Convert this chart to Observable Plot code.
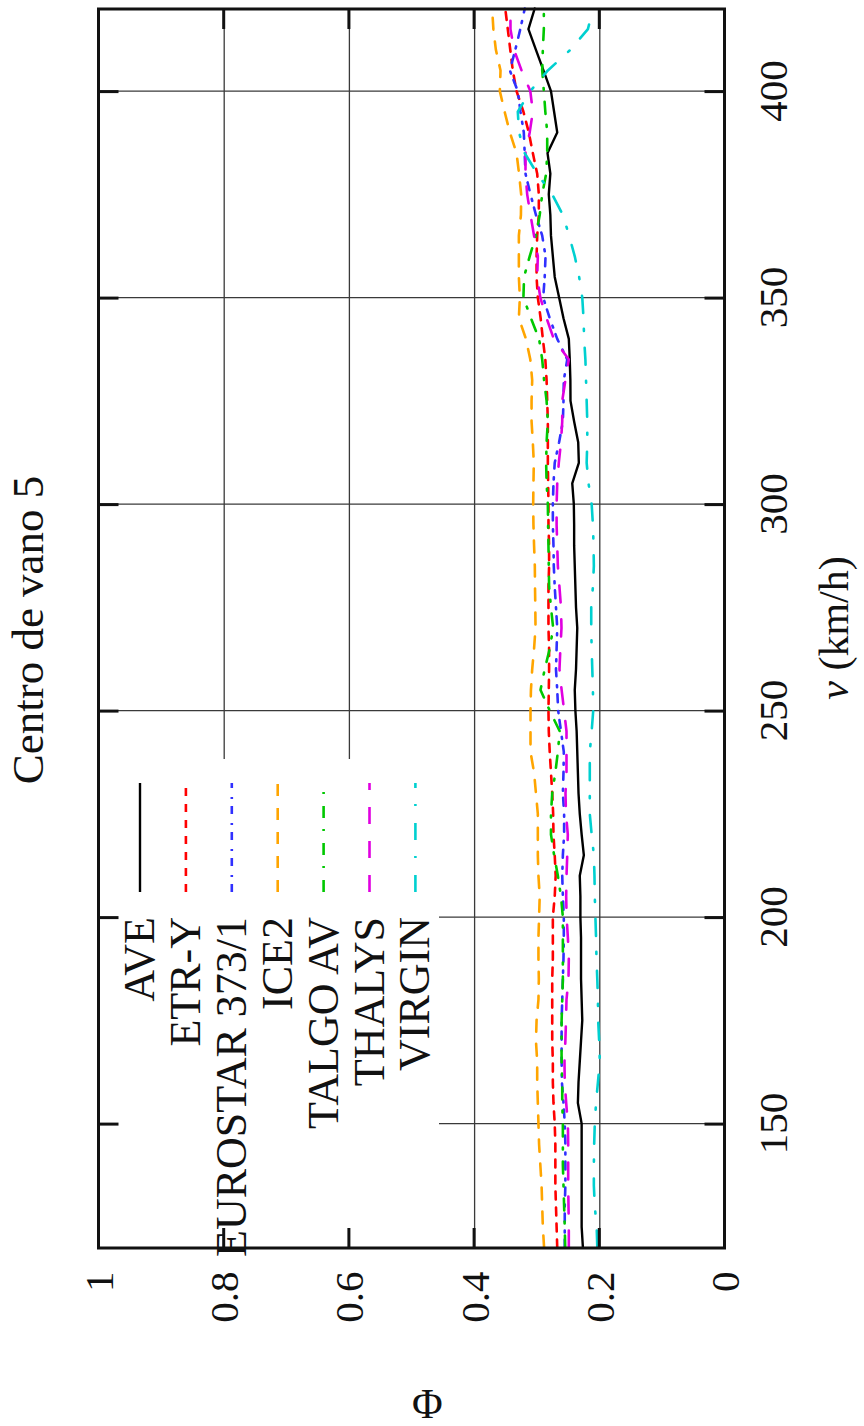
<!DOCTYPE html>
<html><head><meta charset="utf-8">
<script src="https://cdn.jsdelivr.net/npm/d3@7"></script>
<script src="https://cdn.jsdelivr.net/npm/@observablehq/plot@0.6"></script>
<style>
html,body{margin:0;padding:0;background:#fff;}
#wrap{position:relative;width:864px;height:1426px;overflow:hidden;background:#fff;}
#wrap svg{position:absolute;left:0;top:0;max-width:none !important;width:1426px !important;height:864px !important;transform-origin:0 0;transform:translate(0px,1426px) rotate(-90deg);}
</style></head><body><div id="wrap"></div>
<script>
// ---- data (v in km/h, Φ) ----
const speeds = [120,125,130,135,140,145,150,155,160,165,170,175,180,185,190,195,200,205,210,215,220,225,230,235,240,245,250,255,260,265,270,275,280,285,290,295,300,305,310,315,320,325,330,335,340,345,350,355,360,365,370,375,380,385,390,395,400,405,410,415,420];
const ave = [.227,.229,.229,.229,.229,.229,.229,.235,.234,.232,.230,.228,.229,.230,.230,.230,.231,.231,.232,.2255,.229,.232,.234,.235,.236,.237,.239,.240,.238,.237,.236,.238,.239,.240,.241,.241,.2415,.244,.2335,.2345,.241,.2468,.247,.248,.2495,.258,.265,.272,.275,.278,.279,.2815,.279,.2835,.268,.273,.278,.290,.302,.314,.304];
const etrY = [.268,.269,.270,.271,.271,.271,.272,.274,.275,.275,.276,.276,.276,.276,.275,.275,.275,.272,.2705,.272,.274,.2745,.276,.278,.280,.2815,.282,.2815,.281,.281,.282,.282,.282,.281,.281,.282,.282,.2825,.283,.283,.283,.284,.285,.287,.291,.2945,.299,.301,.301,.300,.2974,.2974,.300,.307,.3134,.322,.333,.339,.343,.347,.351];
const eurostar = [.256,.256,.256,.255,.255,.255,.256,.258,.2605,.261,.261,.261,.260,.259,.258,.2575,.2575,.259,.260,.259,.257,.257,.259,.258,.2575,.262,.2665,.268,.270,.269,.268,.270,.272,.2735,.274,.275,.275,.274,.272,.265,.259,.258,.2575,.252,.268,.280,.2904,.288,.2867,.292,.302,.3107,.3187,.320,.3214,.3267,.331,.3437,.335,.327,.3198];
const ice2 = [.289,.291,.292,.293,.295,.297,.298,.299,.300,.300,.302,.301,.298,.2974,.298,.298,.297,.296,.298,.299,.299,.299,.302,.305,.3107,.3107,.3107,.310,.308,.305,.3027,.303,.3035,.3038,.305,.306,.3064,.306,.3054,.307,.309,.309,.308,.311,.318,.3293,.3277,.3293,.3293,.3293,.326,.3256,.329,.333,.3437,.352,.3597,.3586,.366,.370,.372];
const talgo = [.2553,.256,.257,.258,.259,.259,.259,.260,.260,.261,.2612,.261,.260,.259,.259,.259,.259,.262,.267,.273,.278,.278,.276,.271,.267,.264,.280,.2947,.288,.280,.2745,.278,.281,.2815,.282,.2826,.283,.285,.2857,.285,.283,.285,.289,.292,.297,.310,.322,.321,.312,.302,.296,.292,.2857,.284,.284,.287,.2894,.292,.291,.2894,.2894];
const thalys = [.2495,.2495,.250,.2505,.2505,.2505,.251,.2537,.256,.2564,.255,.254,.2532,.250,.2495,.251,.253,.2537,.2532,.252,.2511,.254,.2548,.2532,.2532,.2532,.257,.261,.2644,.263,.2612,.262,.2645,.267,.268,.269,.269,.268,.2655,.262,.260,.260,.255,.2495,.2735,.285,.295,.300,.299,.305,.3107,.316,.3187,.3187,.312,.307,.311,.325,.337,.3427,.3427];
const virgin = [.204,.205,.208,.2095,.2095,.209,.208,.206,.203,.200,.201,.2026,.203,.204,.2053,.206,.207,.208,.2085,.2095,.213,.216,.216,.216,.216,.213,.2105,.211,.212,.213,.2137,.2137,.211,.2095,.210,.211,.213,.218,.221,.220,.220,.221,.222,.223,.225,.226,.228,.233,.240,.249,.259,.276,.300,.320,.329,.331,.311,.283,.247,.219,.211];

const seriesNames = ["AVE","ETR-Y","EUROSTAR 373/1","ICE2","TALGO AV","THALYS","VIRGIN"];
const seriesValues = [ave, etrY, eurostar, ice2, talgo, thalys, virgin];
const seriesColors = ["#000000","#ff0000","#3030ff","#ffa500","#00c800","#e000e0","#00d0d0"];
const seriesDash = [null,"8,8","8,7,2,9","12,12","12,12,2,11","17,17","17,17,2,16"];

const vTicks = [150,200,250,300,350,400];
const phiTicks = [0,0.2,0.4,0.6,0.8,1];
const phiTickLabels = ["0","0.2","0.4","0.6","0.8","1"];
const titleText = "Centro de vano 5";
const xLabel = "v (km/h)";
const yLabel = "Φ";

// ---- layout (unrotated frame; the svg is turned -90° afterwards) ----
const W = 1426, H = 864;
const mL = 178, mR = 9, mT = 98.5, mB = 139.5;
const FONT = "Liberation Serif, Times New Roman, serif";

const rows = [];
seriesNames.forEach((name, k) => speeds.forEach((v, i) => rows.push({name, v, phi: seriesValues[k][i]})));

const lineMarks = seriesNames.map((name, k) =>
  Plot.line(rows.filter(d => d.name === name), {
    x: "v", y: "phi",
    stroke: seriesColors[k],
    strokeWidth: k === 0 ? 2.4 : 2.6,
    strokeDasharray: seriesDash[k] || undefined,
    strokeLinejoin: "round"
  })
);

const plot = Plot.plot({
  width: W, height: H,
  marginLeft: mL, marginRight: mR, marginTop: mT, marginBottom: mB,
  x: {domain: [120, 420], axis: null},
  y: {domain: [0, 1], axis: null},
  style: {fontFamily: FONT, background: "white", maxWidth: "none", overflow: "visible"},
  marks: [
    Plot.ruleX(vTicks, {x: d => d, stroke: "#3a3a3a", strokeWidth: 1.3}),
    Plot.ruleY(phiTicks.slice(1, -1), {y: d => d, stroke: "#3a3a3a", strokeWidth: 1.3}),
    ...lineMarks,
    Plot.text(vTicks, {x: d => d, frameAnchor: "bottom", dy: 62, lineAnchor: "bottom", text: d => String(d), fontSize: 41, fill: "#111"}),
    Plot.text(phiTicks, {y: d => d, frameAnchor: "left", dx: -24, dy: 14, lineAnchor: "bottom", textAnchor: "end", text: (d, i) => phiTickLabels[i], fontSize: 41, fill: "#111"}),
    Plot.text([xLabel], {frameAnchor: "bottom", dy: 123, lineAnchor: "bottom", text: d => d, fontSize: 42, fill: "#111"}),
    Plot.text([yLabel], {frameAnchor: "left", dx: -157, rotate: 90, text: d => d, fontSize: 42, fill: "#111"}),
    Plot.text([titleText], {frameAnchor: "top", dx: -2, dy: -56.5, lineAnchor: "bottom", text: d => d, fontSize: 45, fill: "#111"})
  ]
});

// italic v in the x label
d3.select(plot).selectAll("text").filter(function(){ return this.textContent === xLabel; })
  .each(function(){
    const t = d3.select(this); t.text("");
    t.append("tspan").attr("font-style", "italic").text("v");
    t.append("tspan").text(" (km/h)");
  });

// ---- legend box, ticks and frame drawn with the plot's scales ----
const sx = plot.scale("x"), sy = plot.scale("y");
const X = v => sx.apply(v), Y = p => sy.apply(p);
const svg = d3.select(plot);
const x0 = X(120), x1 = X(420), y0 = Y(1), y1 = Y(0);
const g = svg.append("g");

// opaque key box
const keyRight = 667, keyBottom = 439;
g.append("rect").attr("x", x0 + 1.5).attr("y", y0 + 1.5)
  .attr("width", keyRight - x0 - 1.5).attr("height", keyBottom - y0 - 1.5).attr("fill", "white");

// inward ticks (mirrored)
const T = 20;
vTicks.forEach(v => {
  g.append("line").attr("x1", X(v)).attr("x2", X(v)).attr("y1", y0).attr("y2", y0 + T).attr("stroke", "#111").attr("stroke-width", 3);
  g.append("line").attr("x1", X(v)).attr("x2", X(v)).attr("y1", y1).attr("y2", y1 - T).attr("stroke", "#111").attr("stroke-width", 3);
});
phiTicks.slice(1, -1).forEach(p => {
  g.append("line").attr("y1", Y(p)).attr("y2", Y(p)).attr("x1", x0).attr("x2", x0 + T).attr("stroke", "#111").attr("stroke-width", 3);
  g.append("line").attr("y1", Y(p)).attr("y2", Y(p)).attr("x1", x1).attr("x2", x1 - T).attr("stroke", "#111").attr("stroke-width", 3);
});
// frame
g.append("rect").attr("x", x0).attr("y", y0).attr("width", x1 - x0).attr("height", y1 - y0)
  .attr("fill", "none").attr("stroke", "#111").attr("stroke-width", 3);

// legend entries
const legTop = 140, legStep = 45.9, legTextEnd = 509, legLine0 = 534, legLine1 = 643;
seriesNames.forEach((name, k) => {
  const yy = legTop + k * legStep;
  g.append("line").attr("x1", legLine0).attr("x2", legLine1).attr("y1", yy).attr("y2", yy)
    .attr("stroke", seriesColors[k]).attr("stroke-width", k === 0 ? 2.4 : 2.6)
    .attr("stroke-dasharray", seriesDash[k]);
  g.append("text").attr("x", legTextEnd).attr("y", yy + 14).attr("text-anchor", "end")
    .attr("font-family", FONT).attr("font-size", 44).attr("fill", "#111").text(name);
});

document.getElementById("wrap").appendChild(plot);
</script>
</body></html>
